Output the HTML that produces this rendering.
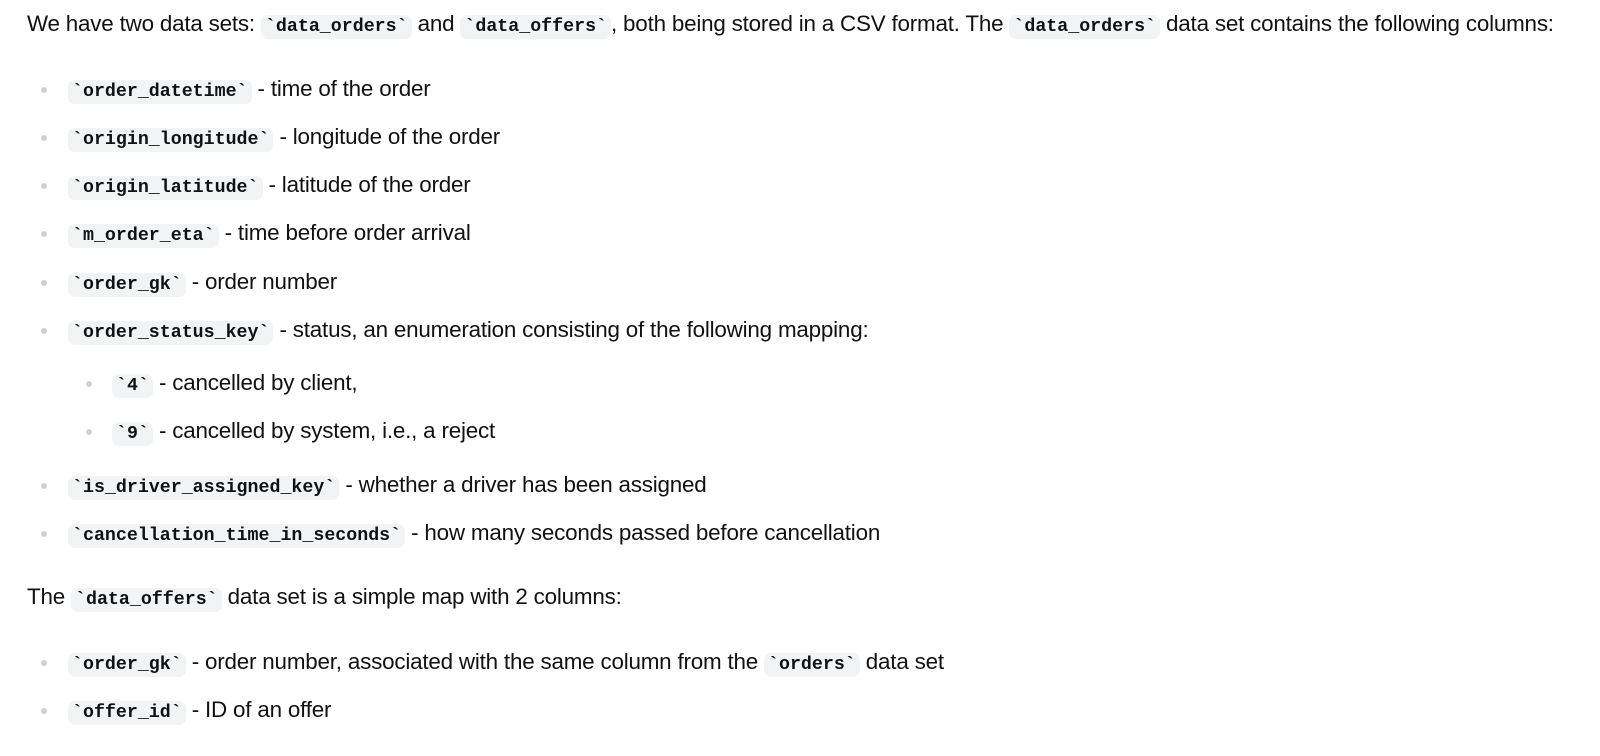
<!DOCTYPE html>
<html><head><meta charset="utf-8"><style>
body{margin:0;width:1600px;height:756px;background:#fff;font-family:"Liberation Sans",sans-serif;font-size:22.4px;color:#111;position:relative;overflow:hidden}
.l{position:absolute;white-space:nowrap;line-height:28px;letter-spacing:-0.2px}
code{font-family:"Liberation Mono",monospace;font-weight:bold;font-size:18.3px;background:#f2f3f5;border-radius:7px;padding:2px 4px;letter-spacing:0}
.b{position:absolute;width:6px;height:6px;border-radius:50%;background:#d0d0d0}
</style></head><body>
<div class="l" style="left:27px;top:10px">We have two data sets: <code>`data_orders`</code> and <code>`data_offers`</code>, both being stored in a CSV format. The <code>`data_orders`</code> data set contains the following columns:</div>

<div class="b" style="left:41px;top:87px"></div><div class="l" style="left:68px;top:75px"><code>`order_datetime`</code> - time of the order</div>
<div class="b" style="left:41px;top:135px"></div><div class="l" style="left:68px;top:123px"><code>`origin_longitude`</code> - longitude of the order</div>
<div class="b" style="left:41px;top:183px"></div><div class="l" style="left:68px;top:171px"><code>`origin_latitude`</code> - latitude of the order</div>
<div class="b" style="left:41px;top:231px"></div><div class="l" style="left:68px;top:219px"><code>`m_order_eta`</code> - time before order arrival</div>
<div class="b" style="left:41px;top:280px"></div><div class="l" style="left:68px;top:268px"><code>`order_gk`</code> - order number</div>
<div class="b" style="left:41px;top:328px"></div><div class="l" style="left:68px;top:316px"><code>`order_status_key`</code> - status, an enumeration consisting of the following mapping:</div>
<div class="b" style="left:86px;top:381px"></div><div class="l" style="left:112px;top:369px"><code>`4`</code> - cancelled by client,</div>
<div class="b" style="left:86px;top:429px"></div><div class="l" style="left:112px;top:417px"><code>`9`</code> - cancelled by system, i.e., a reject</div>
<div class="b" style="left:41px;top:483px"></div><div class="l" style="left:68px;top:471px"><code>`is_driver_assigned_key`</code> - whether a driver has been assigned</div>
<div class="b" style="left:41px;top:531px"></div><div class="l" style="left:68px;top:519px"><code>`cancellation_time_in_seconds`</code> - how many seconds passed before cancellation</div>

<div class="l" style="left:27px;top:583px">The <code>`data_offers`</code> data set is a simple map with 2 columns:</div>
<div class="b" style="left:41px;top:660px"></div><div class="l" style="left:68px;top:648px"><code>`order_gk`</code> - order number, associated with the same column from the <code>`orders`</code> data set</div>
<div class="b" style="left:41px;top:708px"></div><div class="l" style="left:68px;top:696px"><code>`offer_id`</code> - ID of an offer</div>
</body></html>
